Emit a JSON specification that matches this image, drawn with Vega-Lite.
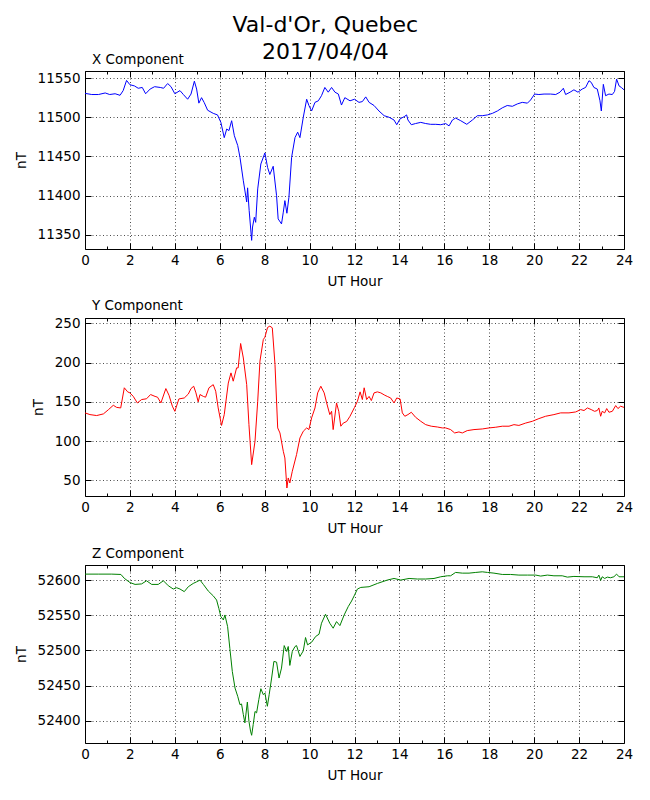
{
  "$schema": "https://vega.github.io/schema/vega-lite/v6.json",
  "description": "Val-d'Or magnetometer, X/Y/Z components for 2017/04/04",
  "padding": {"left": 13, "top": 13, "right": 10, "bottom": 5},
  "title": {
    "text": ["Val-d'Or, Quebec", "2017/04/04"],
    "font": "DejaVu Sans",
    "fontSize": 22,
    "fontWeight": "normal",
    "color": "black",
    "lineHeight": 27,
    "anchor": "middle",
    "frame": "bounds",
    "dx": 2,
    "offset": -11
  },
  "config": {
    "font": "DejaVu Sans",
    "view": {"stroke": "black", "strokeWidth": 1},
    "axis": {
      "domain": false,
      "format": "d",
      "labelFont": "DejaVu Sans",
      "labelFontSize": 13.5,
      "labelColor": "black",
      "titleFont": "DejaVu Sans",
      "titleFontSize": 13.5,
      "titleFontWeight": "normal",
      "titleColor": "black",
      "tickColor": "black",
      "tickWidth": 1,
      "gridColor": "black",
      "gridDash": [1, 2.5],
      "gridWidth": 0.7
    },
    "title": {
      "font": "DejaVu Sans",
      "fontSize": 13.5,
      "fontWeight": "normal",
      "color": "black",
      "anchor": "start",
      "frame": "group",
      "dx": 7,
      "offset": 4
    }
  },
  "datasets": {
    "xcomp": [
      {"h": 0, "v": 11530.5}, {"h": 0.3, "v": 11529}, {"h": 0.6, "v": 11529}, {"h": 0.9, "v": 11531},
      {"h": 1.1, "v": 11529}, {"h": 1.34, "v": 11530}, {"h": 1.56, "v": 11528}, {"h": 1.7, "v": 11534},
      {"h": 1.85, "v": 11547}, {"h": 2.0, "v": 11541.5}, {"h": 2.2, "v": 11540}, {"h": 2.37, "v": 11537},
      {"h": 2.55, "v": 11538}, {"h": 2.7, "v": 11530}, {"h": 2.9, "v": 11536}, {"h": 3.1, "v": 11539},
      {"h": 3.35, "v": 11538}, {"h": 3.5, "v": 11537}, {"h": 3.68, "v": 11543}, {"h": 3.83, "v": 11539},
      {"h": 4.0, "v": 11530}, {"h": 4.23, "v": 11534}, {"h": 4.38, "v": 11529}, {"h": 4.57, "v": 11523},
      {"h": 4.72, "v": 11529.6}, {"h": 4.87, "v": 11546}, {"h": 4.97, "v": 11536}, {"h": 5.07, "v": 11518},
      {"h": 5.19, "v": 11525}, {"h": 5.31, "v": 11518.6}, {"h": 5.46, "v": 11509}, {"h": 5.71, "v": 11505},
      {"h": 5.9, "v": 11503}, {"h": 6.05, "v": 11493.5}, {"h": 6.2, "v": 11474}, {"h": 6.31, "v": 11485},
      {"h": 6.41, "v": 11483}, {"h": 6.53, "v": 11495.6}, {"h": 6.65, "v": 11476.5}, {"h": 6.8, "v": 11464},
      {"h": 6.9, "v": 11449}, {"h": 7.05, "v": 11419}, {"h": 7.2, "v": 11392}, {"h": 7.24, "v": 11410},
      {"h": 7.31, "v": 11381}, {"h": 7.42, "v": 11343}, {"h": 7.46, "v": 11360}, {"h": 7.54, "v": 11372.5},
      {"h": 7.6, "v": 11366}, {"h": 7.69, "v": 11408.6}, {"h": 7.83, "v": 11440.4}, {"h": 8.01, "v": 11454.5},
      {"h": 8.13, "v": 11436}, {"h": 8.23, "v": 11427}, {"h": 8.38, "v": 11437.5}, {"h": 8.53, "v": 11400},
      {"h": 8.6, "v": 11370.4}, {"h": 8.75, "v": 11364}, {"h": 8.83, "v": 11379}, {"h": 8.9, "v": 11393.7},
      {"h": 8.99, "v": 11377.6}, {"h": 9.08, "v": 11398}, {"h": 9.2, "v": 11449}, {"h": 9.35, "v": 11474},
      {"h": 9.47, "v": 11481}, {"h": 9.57, "v": 11474}, {"h": 9.72, "v": 11500}, {"h": 9.87, "v": 11523},
      {"h": 9.97, "v": 11515}, {"h": 10.09, "v": 11508}, {"h": 10.24, "v": 11519}, {"h": 10.39, "v": 11521},
      {"h": 10.53, "v": 11527.5}, {"h": 10.68, "v": 11538}, {"h": 10.83, "v": 11532}, {"h": 10.98, "v": 11538},
      {"h": 11.13, "v": 11532}, {"h": 11.28, "v": 11529.6}, {"h": 11.42, "v": 11515.6}, {"h": 11.57, "v": 11525},
      {"h": 11.8, "v": 11521}, {"h": 12.0, "v": 11523}, {"h": 12.2, "v": 11519}, {"h": 12.35, "v": 11520},
      {"h": 12.5, "v": 11526}, {"h": 12.65, "v": 11519}, {"h": 12.87, "v": 11515}, {"h": 13.09, "v": 11508},
      {"h": 13.32, "v": 11502}, {"h": 13.54, "v": 11500}, {"h": 13.76, "v": 11496.5}, {"h": 13.88, "v": 11490.5},
      {"h": 14.03, "v": 11498}, {"h": 14.21, "v": 11500.7}, {"h": 14.32, "v": 11503}, {"h": 14.38, "v": 11496.5},
      {"h": 14.53, "v": 11490.5}, {"h": 14.72, "v": 11492}, {"h": 14.95, "v": 11493.5}, {"h": 15.17, "v": 11492},
      {"h": 15.39, "v": 11491}, {"h": 15.62, "v": 11491}, {"h": 15.84, "v": 11490.5}, {"h": 16.06, "v": 11492},
      {"h": 16.21, "v": 11489}, {"h": 16.36, "v": 11496.5}, {"h": 16.5, "v": 11499}, {"h": 16.73, "v": 11495.6},
      {"h": 17.0, "v": 11491}, {"h": 17.25, "v": 11496.5}, {"h": 17.47, "v": 11502}, {"h": 17.69, "v": 11502},
      {"h": 17.92, "v": 11503}, {"h": 18.14, "v": 11505}, {"h": 18.36, "v": 11508}, {"h": 18.58, "v": 11512},
      {"h": 18.8, "v": 11515}, {"h": 19.03, "v": 11514}, {"h": 19.25, "v": 11517}, {"h": 19.47, "v": 11519},
      {"h": 19.7, "v": 11518}, {"h": 19.84, "v": 11522}, {"h": 20.02, "v": 11529.6}, {"h": 20.21, "v": 11529},
      {"h": 20.44, "v": 11529.6}, {"h": 20.73, "v": 11529.6}, {"h": 20.96, "v": 11529}, {"h": 21.15, "v": 11532},
      {"h": 21.3, "v": 11537}, {"h": 21.4, "v": 11529}, {"h": 21.6, "v": 11532}, {"h": 21.77, "v": 11535},
      {"h": 21.95, "v": 11532}, {"h": 22.14, "v": 11536}, {"h": 22.29, "v": 11538}, {"h": 22.44, "v": 11546.6},
      {"h": 22.54, "v": 11544.5}, {"h": 22.66, "v": 11538}, {"h": 22.81, "v": 11536}, {"h": 22.93, "v": 11521},
      {"h": 22.99, "v": 11508}, {"h": 23.08, "v": 11542}, {"h": 23.18, "v": 11527.5}, {"h": 23.33, "v": 11529.6},
      {"h": 23.48, "v": 11529}, {"h": 23.58, "v": 11533}, {"h": 23.67, "v": 11548.7}, {"h": 23.78, "v": 11540},
      {"h": 23.88, "v": 11538}, {"h": 24.0, "v": 11535}
    ],
    "ycomp": [
      {"h": 0, "v": 136}, {"h": 0.22, "v": 133.8}, {"h": 0.52, "v": 132.6}, {"h": 0.82, "v": 134.7},
      {"h": 1.04, "v": 140}, {"h": 1.26, "v": 145.7}, {"h": 1.41, "v": 143}, {"h": 1.59, "v": 142.3},
      {"h": 1.75, "v": 168}, {"h": 1.9, "v": 162.8}, {"h": 2.0, "v": 161.5}, {"h": 2.15, "v": 157},
      {"h": 2.33, "v": 148.7}, {"h": 2.52, "v": 153}, {"h": 2.74, "v": 154}, {"h": 2.92, "v": 159.4},
      {"h": 3.12, "v": 157}, {"h": 3.23, "v": 156}, {"h": 3.38, "v": 148.7}, {"h": 3.6, "v": 167},
      {"h": 3.74, "v": 158.5}, {"h": 3.89, "v": 144.5}, {"h": 4.0, "v": 138}, {"h": 4.18, "v": 153.8},
      {"h": 4.42, "v": 155}, {"h": 4.6, "v": 160}, {"h": 4.72, "v": 167}, {"h": 4.84, "v": 170},
      {"h": 4.94, "v": 161.5}, {"h": 5.04, "v": 150}, {"h": 5.12, "v": 159.4}, {"h": 5.27, "v": 157},
      {"h": 5.37, "v": 156}, {"h": 5.52, "v": 168}, {"h": 5.71, "v": 172}, {"h": 5.82, "v": 163.6},
      {"h": 5.93, "v": 142.3}, {"h": 6.08, "v": 120}, {"h": 6.2, "v": 133.8}, {"h": 6.38, "v": 174},
      {"h": 6.5, "v": 187}, {"h": 6.6, "v": 176.4}, {"h": 6.75, "v": 193.4}, {"h": 6.82, "v": 193.4},
      {"h": 6.93, "v": 224.5}, {"h": 7.05, "v": 206}, {"h": 7.2, "v": 172}, {"h": 7.3, "v": 121},
      {"h": 7.42, "v": 70}, {"h": 7.57, "v": 99.8}, {"h": 7.69, "v": 150.8}, {"h": 7.79, "v": 202},
      {"h": 7.94, "v": 229.6}, {"h": 8.01, "v": 232.5}, {"h": 8.13, "v": 245}, {"h": 8.23, "v": 246.6},
      {"h": 8.34, "v": 244.5}, {"h": 8.46, "v": 197.7}, {"h": 8.58, "v": 116.8}, {"h": 8.68, "v": 110.4},
      {"h": 8.83, "v": 87}, {"h": 8.9, "v": 78.5}, {"h": 8.99, "v": 40.2}, {"h": 9.05, "v": 53},
      {"h": 9.12, "v": 46.6}, {"h": 9.23, "v": 61.5}, {"h": 9.42, "v": 82.8}, {"h": 9.57, "v": 104},
      {"h": 9.72, "v": 112.6}, {"h": 9.87, "v": 116.8}, {"h": 9.97, "v": 114.7}, {"h": 10.09, "v": 129.6},
      {"h": 10.24, "v": 142.3}, {"h": 10.36, "v": 161.5}, {"h": 10.5, "v": 170}, {"h": 10.65, "v": 161.5},
      {"h": 10.76, "v": 148.7}, {"h": 10.9, "v": 133.8}, {"h": 10.98, "v": 138}, {"h": 11.05, "v": 114.7},
      {"h": 11.2, "v": 148.7}, {"h": 11.3, "v": 138}, {"h": 11.39, "v": 119}, {"h": 11.5, "v": 123},
      {"h": 11.65, "v": 125}, {"h": 11.8, "v": 131.7}, {"h": 12.0, "v": 143}, {"h": 12.13, "v": 150.8},
      {"h": 12.25, "v": 162.8}, {"h": 12.35, "v": 153}, {"h": 12.43, "v": 168}, {"h": 12.54, "v": 153},
      {"h": 12.65, "v": 157}, {"h": 12.75, "v": 151.7}, {"h": 12.87, "v": 161.5}, {"h": 13.02, "v": 162.8},
      {"h": 13.17, "v": 161.5}, {"h": 13.35, "v": 158.5}, {"h": 13.46, "v": 157}, {"h": 13.61, "v": 155},
      {"h": 13.76, "v": 148.7}, {"h": 13.88, "v": 155}, {"h": 14.03, "v": 153.8}, {"h": 14.13, "v": 136},
      {"h": 14.24, "v": 131.7}, {"h": 14.38, "v": 133.8}, {"h": 14.53, "v": 136.8}, {"h": 14.72, "v": 130.4},
      {"h": 14.95, "v": 125.3}, {"h": 15.17, "v": 121}, {"h": 15.42, "v": 119}, {"h": 15.69, "v": 118},
      {"h": 15.91, "v": 116.8}, {"h": 16.06, "v": 116.8}, {"h": 16.28, "v": 114.7}, {"h": 16.46, "v": 110.4},
      {"h": 16.65, "v": 111.7}, {"h": 16.8, "v": 110.4}, {"h": 17.02, "v": 113.4}, {"h": 17.32, "v": 114.7},
      {"h": 17.69, "v": 115.5}, {"h": 17.99, "v": 116.8}, {"h": 18.29, "v": 117.7}, {"h": 18.58, "v": 119},
      {"h": 18.88, "v": 119}, {"h": 19.1, "v": 121}, {"h": 19.32, "v": 120}, {"h": 19.62, "v": 123},
      {"h": 19.92, "v": 125.3}, {"h": 20.21, "v": 128.7}, {"h": 20.51, "v": 131.7}, {"h": 20.88, "v": 133.8},
      {"h": 21.18, "v": 136}, {"h": 21.55, "v": 136}, {"h": 21.85, "v": 137.2}, {"h": 22.07, "v": 140.2},
      {"h": 22.22, "v": 139}, {"h": 22.37, "v": 142.3}, {"h": 22.54, "v": 140.2}, {"h": 22.69, "v": 138},
      {"h": 22.81, "v": 139}, {"h": 22.88, "v": 142.3}, {"h": 22.96, "v": 131.7}, {"h": 23.03, "v": 138},
      {"h": 23.14, "v": 136}, {"h": 23.23, "v": 141.5}, {"h": 23.33, "v": 136.8}, {"h": 23.48, "v": 138},
      {"h": 23.63, "v": 145.3}, {"h": 23.73, "v": 141.5}, {"h": 23.85, "v": 144.5}, {"h": 24.0, "v": 143}
    ],
    "zcomp": [
      {"h": 0, "v": 52609}, {"h": 0.59, "v": 52609}, {"h": 1.19, "v": 52609}, {"h": 1.6, "v": 52608.5},
      {"h": 1.75, "v": 52603}, {"h": 2.0, "v": 52597}, {"h": 2.23, "v": 52594.3}, {"h": 2.52, "v": 52595},
      {"h": 2.74, "v": 52599.5}, {"h": 2.97, "v": 52594.3}, {"h": 3.26, "v": 52594.3}, {"h": 3.49, "v": 52599.5},
      {"h": 3.71, "v": 52592.4}, {"h": 3.93, "v": 52587.7}, {"h": 4.08, "v": 52589.6}, {"h": 4.23, "v": 52587.7},
      {"h": 4.42, "v": 52584}, {"h": 4.6, "v": 52591}, {"h": 4.82, "v": 52595.7}, {"h": 4.97, "v": 52598},
      {"h": 5.12, "v": 52600.5}, {"h": 5.27, "v": 52594.3}, {"h": 5.49, "v": 52584.8}, {"h": 5.71, "v": 52578},
      {"h": 5.86, "v": 52572}, {"h": 5.96, "v": 52560}, {"h": 6.05, "v": 52548.3}, {"h": 6.16, "v": 52543.6},
      {"h": 6.23, "v": 52550.7}, {"h": 6.35, "v": 52534}, {"h": 6.45, "v": 52503}, {"h": 6.56, "v": 52470},
      {"h": 6.68, "v": 52446.4}, {"h": 6.8, "v": 52434.6}, {"h": 6.9, "v": 52422.7}, {"h": 6.97, "v": 52423.7},
      {"h": 7.05, "v": 52408.5}, {"h": 7.12, "v": 52396.7}, {"h": 7.23, "v": 52426.5}, {"h": 7.3, "v": 52399},
      {"h": 7.37, "v": 52385}, {"h": 7.42, "v": 52379}, {"h": 7.49, "v": 52394.3}, {"h": 7.57, "v": 52413},
      {"h": 7.64, "v": 52411}, {"h": 7.74, "v": 52430}, {"h": 7.83, "v": 52445.5}, {"h": 7.94, "v": 52437},
      {"h": 8.01, "v": 52439.3}, {"h": 8.12, "v": 52420.4}, {"h": 8.2, "v": 52437}, {"h": 8.31, "v": 52460.7},
      {"h": 8.41, "v": 52484.4}, {"h": 8.53, "v": 52483.4}, {"h": 8.64, "v": 52460.7}, {"h": 8.75, "v": 52474.9},
      {"h": 8.87, "v": 52507}, {"h": 8.98, "v": 52498.6}, {"h": 9.05, "v": 52505.7}, {"h": 9.12, "v": 52478.7},
      {"h": 9.23, "v": 52498.6}, {"h": 9.35, "v": 52505.7}, {"h": 9.42, "v": 52507}, {"h": 9.57, "v": 52491.5},
      {"h": 9.72, "v": 52499.5}, {"h": 9.82, "v": 52518.5}, {"h": 9.91, "v": 52508}, {"h": 10.09, "v": 52511.8},
      {"h": 10.27, "v": 52520}, {"h": 10.42, "v": 52523.2}, {"h": 10.53, "v": 52538.9}, {"h": 10.71, "v": 52551.7},
      {"h": 10.9, "v": 52538.9}, {"h": 11.05, "v": 52531.8}, {"h": 11.2, "v": 52541.2}, {"h": 11.35, "v": 52535.5},
      {"h": 11.54, "v": 52550.7}, {"h": 11.72, "v": 52562.6}, {"h": 11.87, "v": 52570.6}, {"h": 12.0, "v": 52579},
      {"h": 12.13, "v": 52587.7}, {"h": 12.28, "v": 52590}, {"h": 12.65, "v": 52591}, {"h": 13.02, "v": 52595.7},
      {"h": 13.46, "v": 52600.5}, {"h": 13.76, "v": 52602.8}, {"h": 14.06, "v": 52600.5}, {"h": 14.43, "v": 52602.8},
      {"h": 14.8, "v": 52602}, {"h": 15.17, "v": 52602}, {"h": 15.54, "v": 52602.8}, {"h": 15.84, "v": 52605.2},
      {"h": 16.14, "v": 52606.6}, {"h": 16.28, "v": 52606.6}, {"h": 16.5, "v": 52611.4}, {"h": 16.8, "v": 52610.4},
      {"h": 17.1, "v": 52610.4}, {"h": 17.4, "v": 52611.4}, {"h": 17.69, "v": 52612.3}, {"h": 17.92, "v": 52611.4},
      {"h": 18.21, "v": 52610.4}, {"h": 18.58, "v": 52608.5}, {"h": 18.95, "v": 52608.5}, {"h": 19.32, "v": 52607.6},
      {"h": 19.7, "v": 52607.6}, {"h": 20.07, "v": 52607.6}, {"h": 20.29, "v": 52606.2}, {"h": 20.59, "v": 52607.6},
      {"h": 20.88, "v": 52606.6}, {"h": 21.25, "v": 52606.6}, {"h": 21.48, "v": 52604.7}, {"h": 21.77, "v": 52605.7},
      {"h": 22.22, "v": 52605.2}, {"h": 22.59, "v": 52605.2}, {"h": 22.81, "v": 52603.8}, {"h": 22.88, "v": 52607.6},
      {"h": 22.96, "v": 52600}, {"h": 23.03, "v": 52605.2}, {"h": 23.14, "v": 52602.8}, {"h": 23.26, "v": 52604.7},
      {"h": 23.4, "v": 52603.8}, {"h": 23.55, "v": 52605.2}, {"h": 23.67, "v": 52609}, {"h": 23.78, "v": 52605.2},
      {"h": 24.0, "v": 52605.2}
    ]
  },
  "bounds": "flush",
  "spacing": 69,
  "vconcat": [
    {
      "title": "X Component",
      "width": 539,
      "height": 178,
      "data": {"name": "xcomp"},
      "layer": [
        {
          "mark": {"type": "line", "color": "#0000ff", "strokeWidth": 1},
          "encoding": {
            "x": {
              "field": "h", "type": "quantitative", "title": "UT Hour",
              "scale": {"domain": [0, 24], "nice": false},
              "axis": {
                "orient": "bottom",
                "values": [0,1,2,3,4,5,6,7,8,9,10,11,12,13,14,15,16,17,18,19,20,21,22,23,24],
                "labelExpr": "datum.value % 2 === 0 ? datum.label : ''",
                "tickSize": {"condition": {"test": "datum.value % 2 === 0", "value": -6}, "value": -3},
                "gridOpacity": {"condition": {"test": "datum.value % 2 === 0", "value": 1}, "value": 0},
                "labelPadding": 10, "titlePadding": 8, "labelFlush": false
              }
            },
            "y": {
              "field": "v", "type": "quantitative", "title": "nT",
              "scale": {"domain": [11332, 11559], "nice": false, "zero": false},
              "axis": {"orient": "left", "values": [11350, 11400, 11450, 11500, 11550], "tickSize": -6, "labelPadding": 11, "titlePadding": 9}
            }
          }
        },
        {
          "mark": {"type": "line", "strokeOpacity": 0},
          "encoding": {
            "x": {
              "field": "h", "type": "quantitative",
              "axis": {
                "orient": "top", "title": null, "labels": false, "grid": false,
                "values": [0,1,2,3,4,5,6,7,8,9,10,11,12,13,14,15,16,17,18,19,20,21,22,23,24],
                "tickSize": {"condition": {"test": "datum.value % 2 === 0", "value": -6}, "value": -3}
              }
            },
            "y": {
              "field": "v", "type": "quantitative",
              "axis": {"orient": "right", "title": null, "labels": false, "grid": false, "values": [11350, 11400, 11450, 11500, 11550], "tickSize": -6}
            }
          }
        }
      ],
      "resolve": {"axis": {"x": "independent", "y": "independent"}}
    },
    {
      "title": "Y Component",
      "width": 539,
      "height": 178,
      "data": {"name": "ycomp"},
      "layer": [
        {
          "mark": {"type": "line", "color": "#ff0000", "strokeWidth": 1},
          "encoding": {
            "x": {
              "field": "h", "type": "quantitative", "title": "UT Hour",
              "scale": {"domain": [0, 24], "nice": false},
              "axis": {
                "orient": "bottom",
                "values": [0,1,2,3,4,5,6,7,8,9,10,11,12,13,14,15,16,17,18,19,20,21,22,23,24],
                "labelExpr": "datum.value % 2 === 0 ? datum.label : ''",
                "tickSize": {"condition": {"test": "datum.value % 2 === 0", "value": -6}, "value": -3},
                "gridOpacity": {"condition": {"test": "datum.value % 2 === 0", "value": 1}, "value": 0},
                "labelPadding": 10, "titlePadding": 8, "labelFlush": false
              }
            },
            "y": {
              "field": "v", "type": "quantitative", "title": "nT",
              "scale": {"domain": [30, 257], "nice": false, "zero": false},
              "axis": {"orient": "left", "values": [50, 100, 150, 200, 250], "tickSize": -6, "labelPadding": 11, "titlePadding": 9}
            }
          }
        },
        {
          "mark": {"type": "line", "strokeOpacity": 0},
          "encoding": {
            "x": {
              "field": "h", "type": "quantitative",
              "axis": {
                "orient": "top", "title": null, "labels": false, "grid": false,
                "values": [0,1,2,3,4,5,6,7,8,9,10,11,12,13,14,15,16,17,18,19,20,21,22,23,24],
                "tickSize": {"condition": {"test": "datum.value % 2 === 0", "value": -6}, "value": -3}
              }
            },
            "y": {
              "field": "v", "type": "quantitative",
              "axis": {"orient": "right", "title": null, "labels": false, "grid": false, "values": [50, 100, 150, 200, 250], "tickSize": -6}
            }
          }
        }
      ],
      "resolve": {"axis": {"x": "independent", "y": "independent"}}
    },
    {
      "title": "Z Component",
      "width": 539,
      "height": 178,
      "data": {"name": "zcomp"},
      "layer": [
        {
          "mark": {"type": "line", "color": "#008000", "strokeWidth": 1},
          "encoding": {
            "x": {
              "field": "h", "type": "quantitative", "title": "UT Hour",
              "scale": {"domain": [0, 24], "nice": false},
              "axis": {
                "orient": "bottom",
                "values": [0,1,2,3,4,5,6,7,8,9,10,11,12,13,14,15,16,17,18,19,20,21,22,23,24],
                "labelExpr": "datum.value % 2 === 0 ? datum.label : ''",
                "tickSize": {"condition": {"test": "datum.value % 2 === 0", "value": -6}, "value": -3},
                "gridOpacity": {"condition": {"test": "datum.value % 2 === 0", "value": 1}, "value": 0},
                "labelPadding": 10, "titlePadding": 8, "labelFlush": false
              }
            },
            "y": {
              "field": "v", "type": "quantitative", "title": "nT",
              "scale": {"domain": [52368, 52622], "nice": false, "zero": false},
              "axis": {"orient": "left", "values": [52400, 52450, 52500, 52550, 52600], "tickSize": -6, "labelPadding": 11, "titlePadding": 9}
            }
          }
        },
        {
          "mark": {"type": "line", "strokeOpacity": 0},
          "encoding": {
            "x": {
              "field": "h", "type": "quantitative",
              "axis": {
                "orient": "top", "title": null, "labels": false, "grid": false,
                "values": [0,1,2,3,4,5,6,7,8,9,10,11,12,13,14,15,16,17,18,19,20,21,22,23,24],
                "tickSize": {"condition": {"test": "datum.value % 2 === 0", "value": -6}, "value": -3}
              }
            },
            "y": {
              "field": "v", "type": "quantitative",
              "axis": {"orient": "right", "title": null, "labels": false, "grid": false, "values": [52400, 52450, 52500, 52550, 52600], "tickSize": -6}
            }
          }
        }
      ],
      "resolve": {"axis": {"x": "independent", "y": "independent"}}
    }
  ]
}
